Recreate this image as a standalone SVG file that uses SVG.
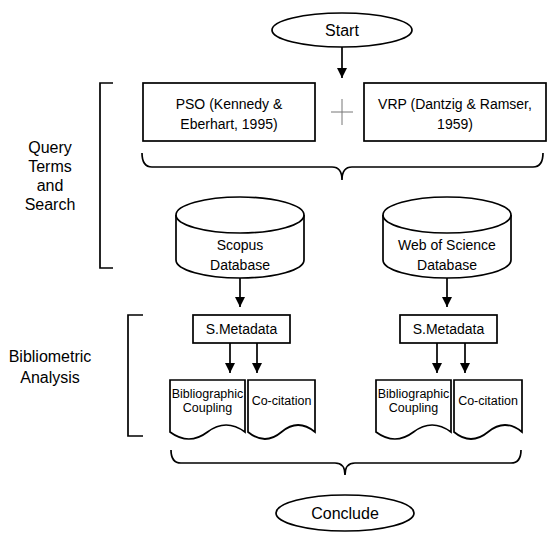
<svg xmlns="http://www.w3.org/2000/svg" width="550" height="540" viewBox="0 0 550 540">
<defs>
<style>
.s{fill:#fff;stroke:#000;stroke-width:1.7}
.n{fill:none;stroke:#000;stroke-width:1.7}
.c{fill:none;stroke:#000;stroke-width:1.7;marker-end:url(#ah)}
text{font-family:"Liberation Sans",Arial,sans-serif;fill:#000;text-anchor:middle}
.t16{font-size:16px}
.t14{font-size:14px}
.t135{font-size:14px}
.t12{font-size:12.5px}
</style>
<marker id="ah" viewBox="0 0 10 10" refX="10" refY="5" markerWidth="10" markerHeight="10" markerUnits="userSpaceOnUse" orient="auto">
<path d="M0,0 L10,5 L0,10 z" fill="#000"/>
</marker>
</defs>
<rect width="550" height="540" fill="#fff"/>

<g id="start">
<ellipse class="s" cx="342" cy="30" rx="70" ry="17"/>
<text class="t16" x="342" y="36">Start</text>
</g>

<g id="pso">
<rect class="s" x="143" y="83" width="172" height="58"/>
<text class="t14" x="229" y="109">PSO (Kennedy &amp;</text>
<text class="t14" x="229" y="129">Eberhart, 1995)</text>
</g>

<g id="plus">
<path d="M331,112 H353 M342,99 V125" fill="none" stroke="#777" stroke-width="1"/>
</g>

<g id="vrp">
<rect class="s" x="364" y="83" width="182" height="58"/>
<text class="t14" x="455" y="109">VRP (Dantzig &amp; Ramser,</text>
<text class="t14" x="455" y="129">1959)</text>
</g>

<g id="brace-top">
<path class="n" d="M142,153 Q142,167 152,167 H332 Q342,167 342,180 Q342,167 352,167 H533 Q543,167 543,153"/>
</g>

<g id="bracket-query">
<path class="n" d="M113,83 H100 V268 H113"/>
<text class="t16" x="50" y="153">Query</text>
<text class="t16" x="50" y="172">Terms</text>
<text class="t16" x="50" y="191">and</text>
<text class="t16" x="50" y="210">Search</text>
</g>

<g id="scopus">
<path class="s" d="M176,215 V260 A64,18 0 0 0 304,260 V215"/>
<ellipse class="s" cx="240" cy="215" rx="64" ry="18"/>
<text class="t135" x="240" y="250">Scopus</text>
<text class="t135" x="240" y="270">Database</text>
</g>

<g id="wos">
<path class="s" d="M383,215 V260 A64,18 0 0 0 511,260 V215"/>
<ellipse class="s" cx="447" cy="215" rx="64" ry="18"/>
<text class="t135" x="447" y="250">Web of Science</text>
<text class="t135" x="447" y="270">Database</text>
</g>

<g id="bracket-biblio">
<path class="n" d="M143,315 H128 V436 H143"/>
<text class="t16" x="50" y="362">Bibliometric</text>
<text class="t16" x="50" y="383">Analysis</text>
</g>

<g id="meta-left">
<rect class="s" x="193" y="315" width="97" height="28"/>
<text class="t14" x="241.5" y="334">S.Metadata</text>
</g>

<g id="meta-right">
<rect class="s" x="400" y="315" width="97" height="28"/>
<text class="t14" x="448.5" y="334">S.Metadata</text>
</g>

<g id="bib-left">
<path class="s" d="M170,380 H245 V432 Q226,418 207.5,432 T170,432 Z"/>
<text class="t12" x="207.5" y="398">Bibliographic</text>
<text class="t12" x="207.5" y="412">Coupling</text>
</g>

<g id="cocit-left">
<path class="s" d="M248,380 H315 V432 Q298,418 281.5,432 T248,432 Z"/>
<text class="t12" x="281.5" y="405">Co-citation</text>
</g>

<g id="bib-right">
<path class="s" d="M376,380 H451 V432 Q432,418 413.5,432 T376,432 Z"/>
<text class="t12" x="413.5" y="398">Bibliographic</text>
<text class="t12" x="413.5" y="412">Coupling</text>
</g>

<g id="cocit-right">
<path class="s" d="M454,380 H522 V432 Q505,418 488,432 T454,432 Z"/>
<text class="t12" x="488" y="405">Co-citation</text>
</g>

<g id="brace-bottom">
<path class="n" d="M171,450 Q171,463 181,463 H335 Q345,463 345,475 Q345,463 355,463 H511 Q521,463 521,450"/>
</g>

<g id="conclude">
<ellipse class="s" cx="345" cy="513" rx="69" ry="18"/>
<text class="t16" x="345" y="519">Conclude</text>
</g>

<g id="connectors">
<line class="c" x1="342" y1="47" x2="342" y2="78"/>
<line class="c" x1="240" y1="278" x2="240" y2="307"/>
<line class="c" x1="447" y1="278" x2="447" y2="307"/>
<line class="c" x1="230" y1="343" x2="230" y2="373"/>
<line class="c" x1="257" y1="343" x2="257" y2="373"/>
<line class="c" x1="437" y1="343" x2="437" y2="373"/>
<line class="c" x1="465" y1="343" x2="465" y2="373"/>
</g>
</svg>
